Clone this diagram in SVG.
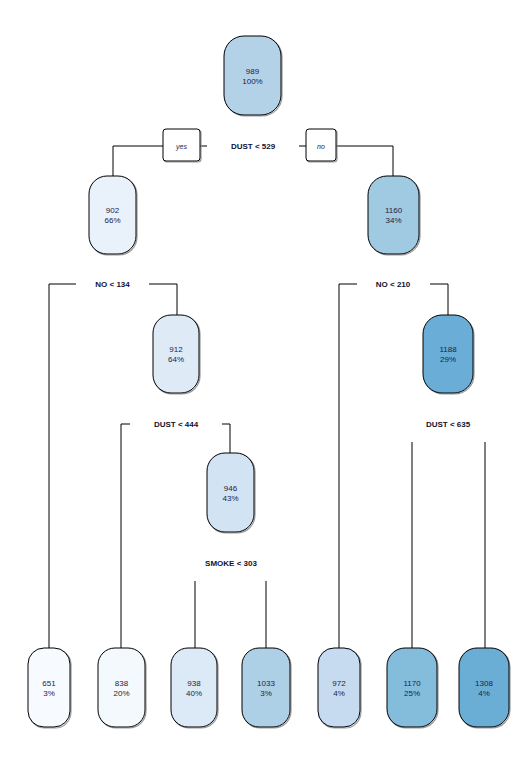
<svg xmlns="http://www.w3.org/2000/svg" width="531" height="759" viewBox="0 0 531 759">
<style>
.nd{stroke:#000;stroke-width:1}
.sh{fill:none;stroke:#9a9a9a;stroke-width:1.2}
.t{font-family:"Liberation Sans",Arial,sans-serif;font-size:8px;fill:#222244;text-anchor:middle}
.lb{font-family:"Liberation Sans",Arial,sans-serif;font-size:8px;font-weight:bold;fill:#111133;text-anchor:middle}
.yn{font-family:"Liberation Sans",Arial,sans-serif;font-size:7px;font-style:italic;fill:#222244;text-anchor:middle}
.ln{fill:none;stroke:#000;stroke-width:1}
</style>
<rect width="531" height="759" fill="#fff"/>
<g id="connectors">
<polyline class="ln" points="163,146 113,146 113,176"/>
<line class="ln" x1="200" y1="146" x2="207" y2="146"/>
<line class="ln" x1="299" y1="146" x2="306" y2="146"/>
<polyline class="ln" points="336,146 393,146 393,176"/>
<polyline class="ln" points="76,284 49,284 49,648"/>
<polyline class="ln" points="149,284 177,284 177,315"/>
<polyline class="ln" points="357,284 339,284 339,648"/>
<polyline class="ln" points="430,284 448,284 448,315"/>
<polyline class="ln" points="130,424 121,424 121,648"/>
<polyline class="ln" points="222,424 230,424 230,453"/>
<line class="ln" x1="195" y1="581" x2="195" y2="648"/>
<line class="ln" x1="266" y1="581" x2="266" y2="648"/>
<line class="ln" x1="412" y1="442" x2="412" y2="648"/>
<line class="ln" x1="485" y1="442" x2="485" y2="648"/>
</g>
<g id="yes">
<rect class="sh" x="164" y="130" width="37" height="32" rx="3"/>
<rect class="nd" x="163" y="129" width="37" height="32" rx="3" fill="#fff"/>
<text class="yn" x="181.5" y="148.5">yes</text>
</g>
<g id="no">
<rect class="sh" x="307" y="130" width="30" height="32" rx="3"/>
<rect class="nd" x="306" y="129" width="30" height="32" rx="3" fill="#fff"/>
<text class="yn" x="321" y="148.5">no</text>
</g>
<g id="split-dust529"><text class="lb" x="253" y="149">DUST &lt; 529</text></g>
<g id="split-no134"><text class="lb" x="112.5" y="287">NO &lt; 134</text></g>
<g id="split-no210"><text class="lb" x="393" y="287">NO &lt; 210</text></g>
<g id="split-dust444"><text class="lb" x="176" y="427">DUST &lt; 444</text></g>
<g id="split-dust635"><text class="lb" x="448" y="427">DUST &lt; 635</text></g>
<g id="split-smoke303"><text class="lb" x="231" y="566">SMOKE &lt; 303</text></g>
<g id="n989">
<rect class="sh" x="225" y="37" width="57" height="79" rx="20"/>
<rect class="nd" x="224" y="36" width="57" height="79" rx="20" fill="#b3d1e7"/>
<text class="t" x="252.5" y="74">989</text><text class="t" x="252.5" y="84">100%</text>
</g>
<g id="n902">
<rect class="sh" x="90" y="177" width="47" height="78" rx="18"/>
<rect class="nd" x="89" y="176" width="47" height="78" rx="18" fill="#e9f2fb"/>
<text class="t" x="112.5" y="213">902</text><text class="t" x="112.5" y="223">66%</text>
</g>
<g id="n1160">
<rect class="sh" x="369" y="177" width="51" height="78" rx="19"/>
<rect class="nd" x="368" y="176" width="51" height="78" rx="19" fill="#9fcae2"/>
<text class="t" x="393.5" y="213">1160</text><text class="t" x="393.5" y="223">34%</text>
</g>
<g id="n912">
<rect class="sh" x="154" y="316" width="46" height="78" rx="18"/>
<rect class="nd" x="153" y="315" width="46" height="78" rx="18" fill="#deebf7"/>
<text class="t" x="176" y="352">912</text><text class="t" x="176" y="362">64%</text>
</g>
<g id="n1188">
<rect class="sh" x="424" y="316" width="50" height="78" rx="19"/>
<rect class="nd" x="423" y="315" width="50" height="78" rx="19" fill="#6aadd6"/>
<text class="t" x="448" y="352">1188</text><text class="t" x="448" y="362">29%</text>
</g>
<g id="n946">
<rect class="sh" x="208" y="454" width="47" height="79" rx="18"/>
<rect class="nd" x="207" y="453" width="47" height="79" rx="18" fill="#d2e3f3"/>
<text class="t" x="230.5" y="491">946</text><text class="t" x="230.5" y="501">43%</text>
</g>
<g id="n651">
<rect class="sh" x="29" y="649" width="42" height="79" rx="16"/>
<rect class="nd" x="28" y="648" width="42" height="79" rx="16" fill="#f7fbff"/>
<text class="t" x="49" y="686">651</text><text class="t" x="49" y="696">3%</text>
</g>
<g id="n838">
<rect class="sh" x="99" y="649" width="47" height="79" rx="17"/>
<rect class="nd" x="98" y="648" width="47" height="79" rx="17" fill="#f4f9fe"/>
<text class="t" x="121.5" y="686">838</text><text class="t" x="121.5" y="696">20%</text>
</g>
<g id="n938">
<rect class="sh" x="172" y="649" width="46" height="79" rx="17"/>
<rect class="nd" x="171" y="648" width="46" height="79" rx="17" fill="#dce9f6"/>
<text class="t" x="194" y="686">938</text><text class="t" x="194" y="696">40%</text>
</g>
<g id="n1033">
<rect class="sh" x="243" y="649" width="48" height="79" rx="17"/>
<rect class="nd" x="242" y="648" width="48" height="79" rx="17" fill="#aed0e7"/>
<text class="t" x="266" y="686">1033</text><text class="t" x="266" y="696">3%</text>
</g>
<g id="n972">
<rect class="sh" x="319" y="649" width="42" height="79" rx="16"/>
<rect class="nd" x="318" y="648" width="42" height="79" rx="16" fill="#c6dbef"/>
<text class="t" x="339" y="686">972</text><text class="t" x="339" y="696">4%</text>
</g>
<g id="n1170">
<rect class="sh" x="388" y="649" width="50" height="79" rx="18"/>
<rect class="nd" x="387" y="648" width="50" height="79" rx="18" fill="#84bcdc"/>
<text class="t" x="412" y="686">1170</text><text class="t" x="412" y="696">25%</text>
</g>
<g id="n1308">
<rect class="sh" x="460" y="649" width="50" height="79" rx="18"/>
<rect class="nd" x="459" y="648" width="50" height="79" rx="18" fill="#6aaed6"/>
<text class="t" x="484" y="686">1308</text><text class="t" x="484" y="696">4%</text>
</g>
</svg>
